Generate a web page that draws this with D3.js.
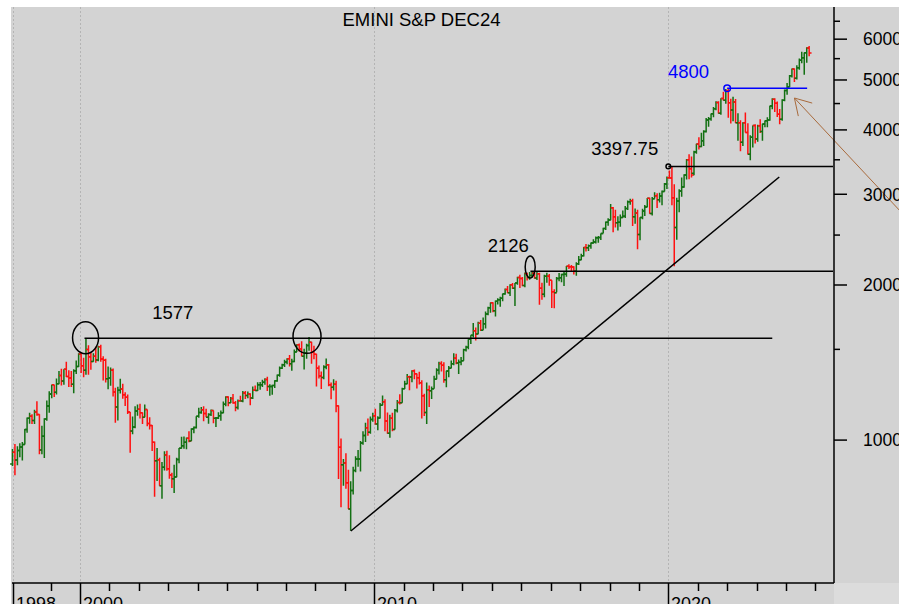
<!DOCTYPE html>
<html><head><meta charset="utf-8">
<script src="https://cdn.jsdelivr.net/npm/d3@7/dist/d3.min.js"></script>
<style>body{margin:0;background:#fff}svg{display:block;font-family:Arial,"Liberation Sans",sans-serif}</style>
</head><body><svg id="c" width="899" height="604"></svg>
<script>
// ---------- DATA (monthly OHLC, first bar = Sep 1997) ----------
const firstYear = 1997, firstMonth = 8; // 0-based month (Sep)
const opens = [
  899,947,915,955,
  970,980,1049,1102,1112,1091,1134,1121,957,1017,1099,1164,
  1229,1280,1238,1286,1335,1302,1373,1329,1320,1283,1363,1389,
  1469,1394,1366,1499,1452,1421,1455,1431,1518,1437,1429,1315,
  1320,1366,1240,1160,1249,1256,1224,1211,1134,1041,1060,1139,
  1148,1130,1107,1147,1077,1067,990,912,916,815,886,936,
  880,856,841,848,917,964,975,990,1008,996,1051,1058,
  1112,1131,1145,1126,1107,1121,1141,1102,1104,1115,1130,1174,
  1212,1181,1204,1181,1157,1192,1191,1234,1220,1229,1207,1249,
  1248,1280,1281,1295,1311,1270,1270,1277,1304,1336,1378,1401,
  1418,1438,1407,1421,1482,1531,1503,1455,1474,1527,1549,1481,
  1468,1379,1331,1323,1386,1400,1280,1267,1283,1166,969,896,
  903,826,735,798,873,919,919,987,1021,1057,1036,1096,
  1115,1074,1104,1169,1187,1089,1031,1102,1049,1141,1183,1181,
  1258,1286,1327,1326,1364,1345,1321,1292,1219,1131,1253,1247,
  1258,1312,1366,1408,1398,1310,1362,1379,1407,1441,1412,1416,
  1426,1498,1515,1569,1598,1631,1606,1686,1633,1682,1757,1806,
  1848,1783,1859,1872,1884,1924,1960,1931,2003,1972,2018,2068,
  2059,1995,2105,2068,2086,2107,2063,2104,1972,1920,2079,2080,
  2044,1940,1932,2060,2065,2097,2099,2174,2171,2168,2126,2199,
  2239,2279,2364,2363,2384,2412,2423,2470,2472,2519,2575,2648,
  2674,2824,2714,2641,2648,2705,2718,2816,2902,2914,2712,2760,
  2507,2704,2784,2834,2946,2752,2942,2980,2926,2977,3038,3141,
  3231,3226,2954,2585,2912,3044,3100,3271,3500,3363,3296,3622,
  3756,3714,3811,3973,4181,4204,4298,4395,4523,4308,4605,4567,
  4766,4516,4374,4530,4131,4132,3785,4130,3955,3586,3872,4080,
  3840,4077,3970,4109,4169,4180,4450,4589,4508,4288,4194,4568,
  4770,4846,5096,5254,5036,5278,5460,5522,5648,5770
];
const highs = [
  961,983,973,986,
  992,1051,1106,1130,1122,1145,1190,1122,1066,1103,1193,1244,
  1280,1281,1317,1362,1376,1373,1420,1366,1362,1373,1427,1474,
  1479,1445,1577,1528,1482,1475,1518,1525,1531,1454,1438,1389,
  1384,1377,1264,1269,1316,1287,1239,1226,1134,1111,1163,1173,
  1176,1131,1173,1147,1107,1070,994,965,924,907,951,954,
  935,864,896,924,965,1015,1016,1012,1040,1054,1063,1112,
  1155,1159,1163,1150,1128,1146,1141,1109,1132,1142,1188,1217,
  1217,1212,1229,1191,1199,1219,1246,1245,1243,1233,1270,1276,
  1295,1297,1310,1318,1327,1284,1281,1306,1340,1390,1407,1432,
  1441,1462,1439,1499,1535,1540,1556,1504,1539,1586,1552,1524,
  1471,1396,1359,1397,1440,1405,1293,1313,1303,1167,1007,919,
  943,876,832,888,930,957,996,1040,1081,1101,1111,1130,
  1151,1113,1180,1220,1200,1131,1120,1130,1149,1196,1228,1263,
  1303,1344,1333,1366,1371,1346,1357,1307,1230,1293,1277,1270,
  1333,1378,1420,1422,1416,1364,1392,1427,1475,1471,1434,1449,
  1504,1525,1570,1598,1687,1654,1698,1710,1730,1776,1814,1849,
  1851,1867,1884,1897,1924,1968,1991,2006,2019,2019,2075,2093,
  2072,2114,2113,2120,2126,2124,2122,2113,2021,2094,2112,2100,
  2044,1963,2073,2111,2103,2121,2178,2194,2188,2175,2214,2278,
  2301,2371,2401,2398,2418,2454,2484,2491,2519,2582,2657,2695,
  2873,2835,2801,2718,2742,2791,2848,2917,2941,2940,2816,2800,
  2708,2813,2861,2949,2954,2965,3028,3014,3022,3050,3154,3248,
  3338,3398,3137,2955,3068,3233,3280,3514,3588,3550,3646,3760,
  3870,3951,3995,4219,4238,4302,4430,4546,4546,4608,4744,4800,
  4820,4595,4637,4593,4307,4177,4140,4325,4120,3905,4080,4101,
  4095,4195,4110,4170,4231,4458,4608,4607,4542,4393,4587,4793,
  4932,5111,5265,5264,5342,5506,5670,5651,5790,5822
];
const lows = [
  891,855,894,926,
  913,980,1033,1076,1074,1074,1115,939,939,923,1090,1130,
  1205,1212,1226,1283,1277,1281,1326,1268,1268,1233,1343,1387,
  1350,1325,1339,1339,1370,1420,1413,1423,1419,1305,1294,1255,
  1275,1215,1081,1091,1232,1203,1165,1124,945,1026,1054,1115,
  1101,1075,1107,1064,1049,952,776,833,815,769,873,872,
  841,807,789,847,902,963,962,960,990,996,1031,1053,
  1105,1125,1088,1107,1076,1114,1078,1060,1099,1090,1128,1163,
  1163,1180,1176,1137,1147,1188,1184,1201,1206,1169,1202,1245,
  1245,1253,1268,1280,1245,1219,1224,1262,1298,1327,1374,1386,
  1403,1389,1364,1416,1482,1485,1454,1371,1439,1490,1407,1435,
  1270,1317,1257,1313,1373,1272,1200,1248,1133,840,741,815,
  805,735,667,784,866,888,869,979,992,1020,1029,1086,
  1071,1045,1101,1168,1040,1029,1011,1040,1049,1131,1173,1181,
  1257,1283,1249,1295,1312,1259,1282,1101,1114,1075,1159,1202,
  1258,1312,1341,1358,1292,1267,1325,1378,1397,1403,1343,1398,
  1426,1486,1501,1536,1581,1560,1605,1628,1633,1646,1747,1767,
  1770,1738,1834,1815,1860,1915,1930,1905,1964,1821,2002,1973,
  1988,1981,2040,2048,2067,2056,2045,1831,1872,1893,2020,1993,
  1804,1802,1937,2033,2025,1992,2074,2148,2120,2097,2084,2188,
  2234,2272,2322,2329,2353,2405,2407,2417,2446,2520,2557,2605,
  2670,2533,2586,2553,2595,2699,2698,2796,2864,2604,2631,2347,
  2444,2682,2723,2831,2750,2729,2944,2822,2892,2856,3036,3070,
  3214,2855,2174,2447,2767,2966,3090,3205,3210,3234,3268,3594,
  3663,3700,3723,3955,4056,4165,4234,4368,4306,4279,4561,4496,
  4223,4115,4157,4127,3811,3637,3721,3955,3585,3492,3699,3765,
  3795,3943,3809,4049,4048,4167,4385,4335,4238,4104,4167,4547,
  4682,4845,5057,4954,5012,5234,5391,5120,5403,5560
];
const closes = [
  947,915,955,970,
  980,1049,1102,1112,1091,1134,1121,957,1017,1099,1164,1229,
  1280,1238,1286,1335,1302,1373,1329,1320,1283,1363,1389,1469,
  1394,1366,1499,1452,1421,1455,1431,1518,1437,1429,1315,1320,
  1366,1240,1160,1249,1256,1224,1211,1134,1041,1060,1139,1148,
  1130,1107,1147,1077,1067,990,912,916,815,886,936,880,
  856,841,848,917,964,975,990,1008,996,1051,1058,1112,
  1131,1145,1126,1107,1121,1141,1102,1104,1115,1130,1174,1212,
  1181,1204,1181,1157,1192,1191,1234,1220,1229,1207,1249,1248,
  1280,1281,1295,1311,1270,1270,1277,1304,1336,1378,1401,1418,
  1438,1407,1421,1482,1531,1503,1455,1474,1527,1549,1481,1468,
  1379,1331,1323,1386,1400,1280,1267,1283,1166,969,896,903,
  826,735,798,873,919,919,987,1021,1057,1036,1096,1115,
  1074,1104,1169,1187,1089,1031,1102,1049,1141,1183,1181,1258,
  1286,1327,1326,1364,1345,1321,1292,1219,1131,1253,1247,1258,
  1312,1366,1408,1398,1310,1362,1379,1407,1441,1412,1416,1426,
  1498,1515,1569,1598,1631,1606,1686,1633,1682,1757,1806,1848,
  1783,1859,1872,1884,1924,1960,1931,2003,1972,2018,2068,2059,
  1995,2105,2068,2086,2107,2063,2104,1972,1920,2079,2080,2044,
  1940,1932,2060,2065,2097,2099,2174,2171,2168,2126,2199,2239,
  2279,2364,2363,2384,2412,2423,2470,2472,2519,2575,2648,2674,
  2824,2714,2641,2648,2705,2718,2816,2902,2914,2712,2760,2507,
  2704,2784,2834,2946,2752,2942,2980,2926,2977,3038,3141,3231,
  3226,2954,2585,2912,3044,3100,3271,3500,3363,3270,3622,3756,
  3714,3811,3973,4181,4204,4298,4395,4523,4308,4605,4567,4766,
  4516,4374,4530,4132,4132,3785,4130,3955,3586,3872,4080,3840,
  4077,3970,4109,4169,4180,4450,4589,4508,4288,4194,4568,4770,
  4846,5096,5254,5036,5278,5460,5522,5648,5770,5640
];
const title = "EMINI S&P DEC24";
const yMajorTicks = [1000, 2000, 3000, 4000, 5000, 6000];
const yMinorTicks = [1500, 2500, 3500, 4500, 5500, 6500];
const xMajorYears = [2000, 2010, 2020];
const xMinorYears = d3.range(1999, 2026).filter(y => !xMajorYears.includes(y));
const startLabel = "1998";
// annotations: [date, value]
const levels = [
  {value:1577, from:new Date(2000,1,26), to:new Date(2023,6,15), color:"#000"},
  {value:2126, from:new Date(2015,3,25), to:null, color:"#000"},
  {value:3397.75, from:new Date(2020,0,1), to:null, color:"#000", marker:true},
  {value:4820, from:new Date(2022,0,1), to:new Date(2024,8,20), color:"#0000ff", marker:true}
];
const labelPos = [
  {text:"1577", date:new Date(2002,5,15), value:1720, color:"#000"},
  {text:"2126", date:new Date(2013,10,10), value:2320, color:"#000"},
  {text:"3397.75", date:new Date(2017,4,20), value:3575, color:"#000"},
  {text:"4800", date:new Date(2019,11,28), value:5040, color:"#0000ff"}
];
const ellipses = [
  {date:new Date(2000,2,10), value:1580, rx:13, ry:16},
  {date:new Date(2007,8,20), value:1590, rx:14, ry:17},
  {date:new Date(2015,3,22), value:2168, rx:5, ry:11}
];
const trendLine = [[new Date(2009,2,17), 666], [new Date(2023,9,10), 3241]];
const arrowLine = [[new Date(2024,3,15), 4613], [new Date(2029,11,1), 2091]];

// ---------- CHART ----------
const W = 899, H = 604;
const plot = {left:11, right:834, top:7, bottom:583};
const svg = d3.select("#c");
svg.append("rect").attr("x",plot.left).attr("y",plot.top).attr("width",W-plot.left).attr("height",H-plot.top).attr("fill","#d3d3d3");
svg.append("rect").attr("x",plot.right).attr("y",plot.bottom).attr("width",W-plot.right).attr("height",H-plot.bottom).attr("fill","#dcdcdc");

const x = d3.scaleTime().domain([new Date(2000,0,1), new Date(2020,0,1)]).range([80, 668.3]);
const y = d3.scaleLog().domain([528, 6928]).range([plot.bottom, plot.top]);

// grid (dotted verticals)
const firstDate = new Date(firstYear, firstMonth, 24);
const gridDates = [firstDate].concat(xMajorYears.map(yy => new Date(yy,0,1)));
svg.append("g").selectAll("line").data(gridDates).join("line")
  .attr("x1",d=>Math.round(x(d))+0.5).attr("x2",d=>Math.round(x(d))+0.5)
  .attr("y1",plot.top).attr("y2",plot.bottom)
  .attr("stroke","#b4b4b4").attr("stroke-dasharray","2,2");

// title
svg.append("text").attr("x",421.5).attr("y",25.5).attr("text-anchor","middle")
  .attr("font-size",18.5).attr("fill","#000").text(title);

// bars
const bars = opens.map((o,i)=>({date:new Date(firstYear, firstMonth+i, 15), o, h:highs[i], l:lows[i], c:closes[i]}));
const tw = 2.4;
svg.append("g").attr("fill","none").attr("stroke-width",1.5)
  .selectAll("path").data(bars).join("path")
  .attr("stroke", d => d.c >= d.o ? "#137013" : "#ff1010")
  .attr("d", d => {
    const xx = x(d.date);
    return `M${xx},${y(d.h)}V${y(d.l)}M${xx-tw},${y(d.o)}H${xx}M${xx},${y(d.c)}H${xx+tw}`;
  });

// level lines
const lv = svg.append("g");
levels.forEach(L => {
  const x1 = x(L.from), x2 = L.to ? x(L.to) : plot.right - 1, yy = y(L.value);
  lv.append("line").attr("x1",x1).attr("x2",x2).attr("y1",yy).attr("y2",yy)
    .attr("stroke",L.color).attr("stroke-width",1.5);
  if (L.marker) lv.append("circle").attr("cx",x1).attr("cy",yy).attr("r",L.color==="#000"?2.3:3.3)
    .attr("fill","none").attr("stroke",L.color).attr("stroke-width",1.5);
});
svg.append("g").selectAll("text").data(labelPos).join("text")
  .attr("x",d=>x(d.date)).attr("y",d=>y(d.value)).attr("font-size",18.5)
  .attr("fill",d=>d.color).text(d=>d.text);

// ellipses
svg.append("g").selectAll("ellipse").data(ellipses).join("ellipse")
  .attr("cx",d=>x(d.date)).attr("cy",d=>y(d.value)).attr("rx",d=>d.rx).attr("ry",d=>d.ry)
  .attr("fill","none").attr("stroke","#000").attr("stroke-width",1.5);

// trend line
svg.append("line").attr("x1",x(trendLine[0][0])).attr("y1",y(trendLine[0][1]))
  .attr("x2",x(trendLine[1][0])).attr("y2",y(trendLine[1][1]))
  .attr("stroke","#000").attr("stroke-width",1.5);

// arrow
const ax1 = x(arrowLine[0][0]), ay1 = y(arrowLine[0][1]), ax2 = x(arrowLine[1][0]), ay2 = y(arrowLine[1][1]);
const ang = Math.atan2(ay2-ay1, ax2-ax1), hl = 18.5, ha = 0.54;
const brown = "#a86a3c";
svg.append("path").attr("fill","none").attr("stroke",brown).attr("stroke-width",1)
  .attr("d",`M${ax2},${ay2}L${ax1},${ay1}M${ax1+hl*Math.cos(ang-ha)},${ay1+hl*Math.sin(ang-ha)}L${ax1},${ay1}L${ax1+hl*Math.cos(ang+ha)},${ay1+hl*Math.sin(ang+ha)}`);

// axes
const ax = svg.append("g").attr("stroke","#000");
ax.append("line").attr("x1",plot.left+1).attr("x2",plot.right).attr("y1",plot.bottom).attr("y2",plot.bottom).attr("stroke-width",1.5);
ax.append("line").attr("x1",plot.right).attr("x2",plot.right).attr("y1",plot.top).attr("y2",plot.bottom).attr("stroke-width",1.5);
ax.selectAll(".ymaj").data(yMajorTicks).join("line").attr("class","ymaj").attr("x1",plot.right).attr("x2",plot.right+13)
  .attr("y1",d=>y(d)).attr("y2",d=>y(d)).attr("stroke-width",1.5);
ax.selectAll(".ymin").data(yMinorTicks).join("line").attr("class","ymin").attr("x1",plot.right).attr("x2",plot.right+6)
  .attr("y1",d=>y(d)).attr("y2",d=>y(d)).attr("stroke-width",1.5);
svg.append("g").selectAll("text").data(yMajorTicks).join("text")
  .attr("x",plot.right+29).attr("y",d=>y(d)).attr("dy","0.36em").attr("font-size",17.5).attr("fill","#000")
  .text(d=>d);
const xMaj = [firstDate].concat(xMajorYears.map(yy=>new Date(yy,0,1)));
const xMajLbl = [startLabel].concat(xMajorYears.map(String));
ax.selectAll(".xmaj").data(xMaj).join("line").attr("class","xmaj")
  .attr("x1",d=>Math.round(x(d))+0.5).attr("x2",d=>Math.round(x(d))+0.5).attr("y1",plot.bottom).attr("y2",H)
  .attr("stroke-width",1.5);
ax.selectAll(".xmin").data(xMinorYears).join("line").attr("class","xmin")
  .attr("x1",d=>Math.round(x(new Date(d,0,1)))+0.5).attr("x2",d=>Math.round(x(new Date(d,0,1)))+0.5)
  .attr("y1",plot.bottom).attr("y2",plot.bottom+8).attr("stroke-width",1.5);
svg.append("g").selectAll("text").data(xMaj).join("text")
  .attr("x",d=>Math.round(x(d))+3).attr("y",610).attr("font-size",18).attr("fill","#000")
  .text((d,i)=>xMajLbl[i]);
</script></body></html>
